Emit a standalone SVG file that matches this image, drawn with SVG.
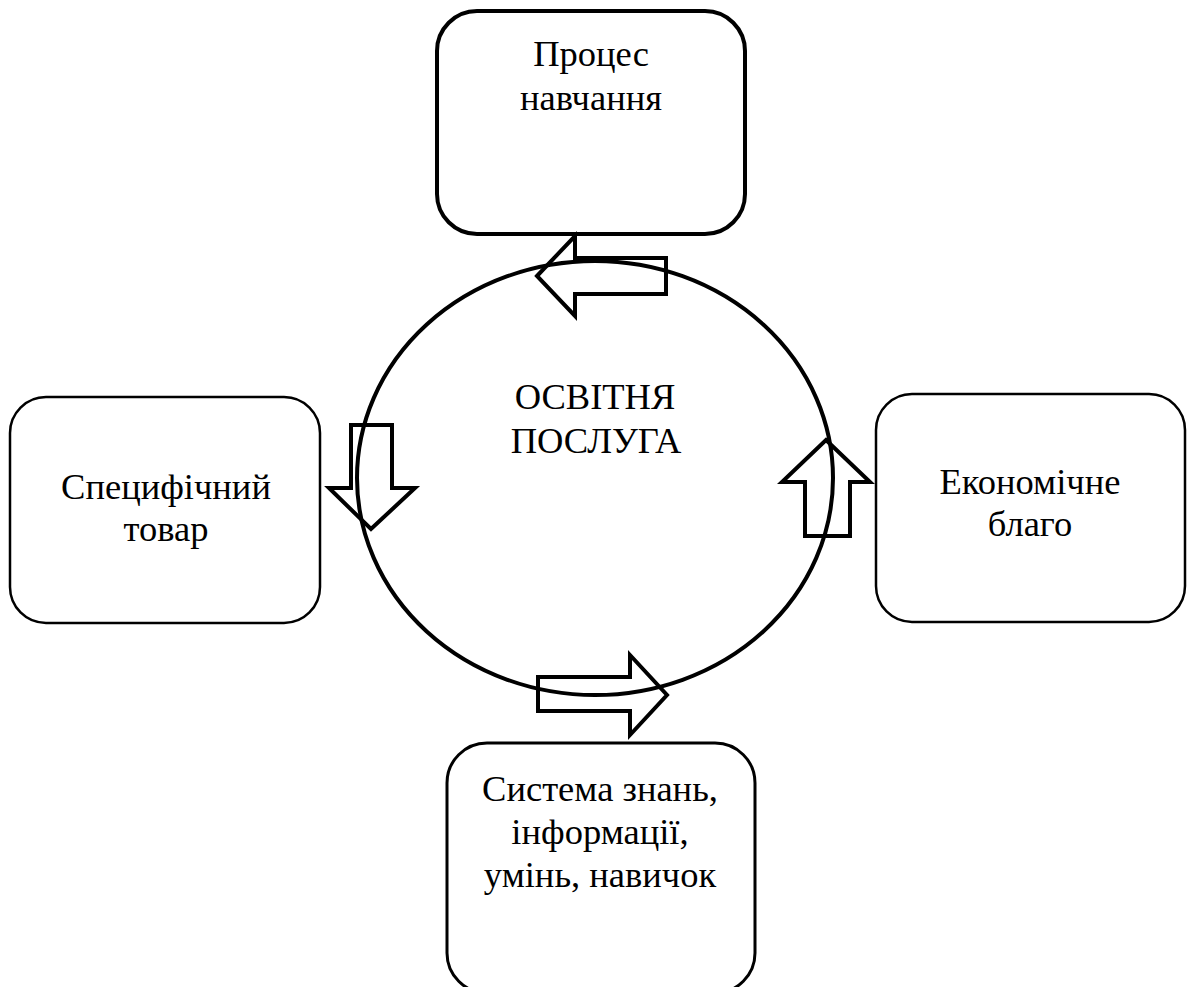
<svg xmlns="http://www.w3.org/2000/svg" width="1191" height="987" viewBox="0 0 1191 987">
<style>
.box{fill:#fff;stroke:#000}
.t{font-family:'Liberation Serif','Times New Roman',serif;font-size:36.5px;fill:#000;text-anchor:middle}
.arr{fill:none;stroke:#000;stroke-width:4;stroke-linejoin:miter}
</style>
<rect width="1191" height="987" fill="#fff"/>
<g id="top-node">
<rect class="box" x="437" y="11" width="308" height="223" rx="40" stroke-width="4"/>
<text class="t" x="591" y="66">Процес</text>
<text class="t" x="591" y="110">навчання</text>
</g>
<g id="left-node">
<rect class="box" x="10" y="397" width="310" height="226" rx="36" stroke-width="2.5"/>
<text class="t" x="166" y="499">Специфічний</text>
<text class="t" x="166" y="541">товар</text>
</g>
<g id="right-node">
<rect class="box" x="876" y="394" width="309" height="228" rx="36" stroke-width="2.5"/>
<text class="t" x="1030" y="494">Економічне</text>
<text class="t" x="1030" y="536">благо</text>
</g>
<g id="bottom-node">
<rect class="box" x="447" y="743" width="308" height="250" rx="40" stroke-width="3"/>
<text class="t" x="600" y="801">Система знань,</text>
<text class="t" x="600" y="844">інформації,</text>
<text class="t" x="600" y="887">умінь, навичок</text>
</g>
<g id="center-node">
<ellipse cx="595" cy="478" rx="238" ry="217" fill="none" stroke="#000" stroke-width="4"/>
<text class="t" x="595" y="409">ОСВІТНЯ</text>
<text class="t" x="596" y="453">ПОСЛУГА</text>
</g>
<g id="connectors">
<polygon class="arr" points="537,276 575,236 575,258 666,258 666,294 575,294 575,316"/>
<polygon class="arr" points="351,425 392,425 392,488 415,488 371,529 329,488 351,488"/>
<polygon class="arr" points="826,440 870,482 850,482 850,536 805,536 805,482 782,482"/>
<polygon class="arr" points="538,677 630,677 630,655 667,695 630,735 630,711 538,711"/>
</g>
</svg>
